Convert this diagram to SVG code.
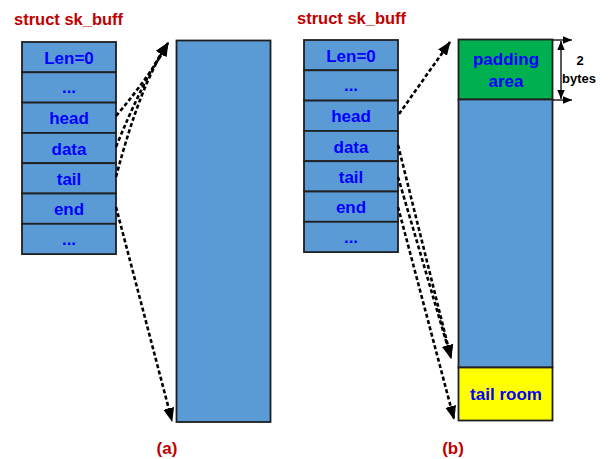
<svg xmlns="http://www.w3.org/2000/svg" width="610" height="459" viewBox="0 0 610 459">
  <defs>
    <style>
      .cell { fill: #5B9BD5; stroke: #1F1F1F; stroke-width: 1.8; }
      .buf { stroke: #1F1F1F; stroke-width: 1.8; }
      .lbl { font-family: "Liberation Sans", Arial, sans-serif; font-weight: bold; font-size: 17px; fill: #0000FF; text-anchor: middle; }
      .title { font-family: "Liberation Sans", Arial, sans-serif; font-weight: bold; font-size: 16.5px; fill: #C00000; }
      .cap { font-family: "Liberation Sans", Arial, sans-serif; font-weight: bold; font-size: 17px; fill: #C00000; text-anchor: middle; }
      .dim { font-family: "Liberation Sans", Arial, sans-serif; font-weight: bold; font-size: 13px; fill: #000; text-anchor: middle; }
      .ptr { fill: none; stroke: #000; stroke-width: 2.6; stroke-dasharray: 4 2.5; }
      .dimline { fill: none; stroke: #000; stroke-width: 1.3; }
    </style>
    <marker id="head" markerUnits="userSpaceOnUse" markerWidth="14" markerHeight="14" viewBox="0 0 14 14" refX="13" refY="7" orient="auto">
      <path d="M0,1.5 L14,7 L0,12.5 Z" fill="#000"/>
    </marker>
    <marker id="dimhead" markerUnits="userSpaceOnUse" markerWidth="9" markerHeight="9" viewBox="0 0 9 9" refX="9" refY="4.5" orient="auto-start-reverse">
      <path d="M0,0.8 L9,4.5 L0,8.2 Z" fill="#000"/>
    </marker>
  </defs>

  <!-- panel (a) -->
  <text class="title" x="14" y="25">struct sk_buff</text>
  <g id="skb-a">
    <rect class="cell" x="22" y="42" width="94" height="30.3"/>
    <rect class="cell" x="22" y="72.3" width="94" height="30.3"/>
    <rect class="cell" x="22" y="102.6" width="94" height="30.3"/>
    <rect class="cell" x="22" y="132.9" width="94" height="30.3"/>
    <rect class="cell" x="22" y="163.2" width="94" height="30.3"/>
    <rect class="cell" x="22" y="193.5" width="94" height="30.3"/>
    <rect class="cell" x="22" y="223.8" width="94" height="30.3"/>
    <text class="lbl" x="69" y="63.5">Len=0</text>
    <text class="lbl" x="69" y="93">...</text>
    <text class="lbl" x="69" y="124">head</text>
    <text class="lbl" x="69" y="154.5">data</text>
    <text class="lbl" x="69" y="184.5">tail</text>
    <text class="lbl" x="69" y="215">end</text>
    <text class="lbl" x="69" y="245">...</text>
  </g>
  <g id="buffer-a">
    <rect class="buf" x="176.5" y="40.5" width="94" height="381.5" fill="#5B9BD5"/>
  </g>
  <text class="cap" x="167" y="454">(a)</text>

  <!-- panel (b) -->
  <text class="title" x="297" y="24">struct sk_buff</text>
  <g id="skb-b">
    <rect class="cell" x="304" y="40" width="94" height="30.3"/>
    <rect class="cell" x="304" y="70.3" width="94" height="30.3"/>
    <rect class="cell" x="304" y="100.6" width="94" height="30.3"/>
    <rect class="cell" x="304" y="130.9" width="94" height="30.3"/>
    <rect class="cell" x="304" y="161.2" width="94" height="30.3"/>
    <rect class="cell" x="304" y="191.5" width="94" height="30.3"/>
    <rect class="cell" x="304" y="221.8" width="94" height="30.3"/>
    <text class="lbl" x="351" y="61.5">Len=0</text>
    <text class="lbl" x="351" y="91">...</text>
    <text class="lbl" x="351" y="122">head</text>
    <text class="lbl" x="351" y="152.5">data</text>
    <text class="lbl" x="351" y="182.5">tail</text>
    <text class="lbl" x="351" y="213">end</text>
    <text class="lbl" x="351" y="243">...</text>
  </g>
  <g id="buffer-b">
    <rect class="buf" x="458.5" y="39.5" width="94" height="60" fill="#00B050"/>
    <rect class="buf" x="458.5" y="99.5" width="94" height="268" fill="#5B9BD5"/>
    <rect class="buf" x="458.5" y="367.5" width="94" height="53" fill="#FFFF00"/>
    <text class="lbl" x="506" y="65">padding</text>
    <text class="lbl" x="506" y="87">area</text>
    <text class="lbl" x="506" y="400">tail room</text>
  </g>
  <text class="cap" x="453" y="454">(b)</text>

  <!-- padding size marker -->
  <g id="pad-size">
    <line class="dimline" x1="553" y1="40" x2="572" y2="40" marker-end="url(#dimhead)"/>
    <line class="dimline" x1="553" y1="100" x2="572" y2="100" marker-end="url(#dimhead)"/>
    <line class="dimline" x1="561" y1="41" x2="561" y2="99" marker-start="url(#dimhead)" marker-end="url(#dimhead)"/>
    <text class="dim" x="580" y="65">2</text>
    <text class="dim" x="579" y="83">bytes</text>
  </g>

  <!-- pointer connectors -->
  <g id="connectors">
    <path class="ptr" d="M116,116 Q150,76 168,43" marker-end="url(#head)"/>
    <path class="ptr" d="M116,147 Q143,80 168,43" marker-end="url(#head)"/>
    <path class="ptr" d="M116,177 Q140,85 168,43" marker-end="url(#head)"/>
    <path class="ptr" d="M116,207 L172,421" marker-end="url(#head)"/>
    <path class="ptr" d="M399,114 L450,42" marker-end="url(#head)"/>
    <path class="ptr" d="M398,145 L451,358" marker-end="url(#head)"/>
    <path class="ptr" d="M398,177 L451,358" marker-end="url(#head)"/>
    <path class="ptr" d="M398,207 L454,419" marker-end="url(#head)"/>
  </g>
</svg>
